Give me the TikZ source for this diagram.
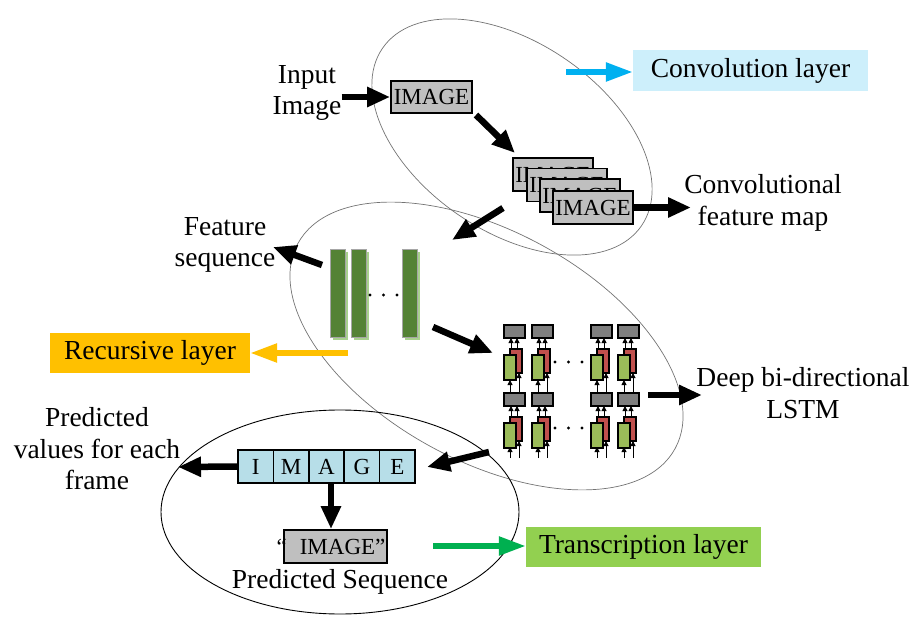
\documentclass[tikz,border=0pt]{standalone}
\usepackage{fontspec}
\setmainfont{Liberation Serif}
\usetikzlibrary{arrows.meta,shadows}

\definecolor{boxgrey}{HTML}{BFBFBF}
\definecolor{cellgrey}{HTML}{7F7F7F}
\definecolor{bargreen}{HTML}{548235}
\definecolor{barlight}{HTML}{A9D18E}
\definecolor{cellred}{HTML}{C0504D}
\definecolor{cellgreen}{HTML}{9BBB59}
\definecolor{seqblue}{HTML}{B7DEE8}
\definecolor{convbg}{HTML}{CDEFFB}
\definecolor{convarrow}{HTML}{00B0F0}
\definecolor{recbg}{HTML}{FFC000}
\definecolor{transbg}{HTML}{92D050}
\definecolor{transarrow}{HTML}{00B050}

\begin{document}
\begin{tikzpicture}[x=1pt,y=-1pt,
  lbl/.style={font=\fontsize{27.5}{31.5}\selectfont, align=center, inner sep=0pt},
  imgbox/.style={draw=black, line width=1.8pt, fill=boxgrey,
    font=\fontsize{23}{26}\selectfont, minimum width=80pt, minimum height=33pt, inner sep=0pt},
  seqcell/.style={draw=black, line width=1.5pt, fill=seqblue,
    font=\fontsize{23}{26}\selectfont, minimum width=35.4pt, minimum height=33pt, inner sep=0pt},
  layerbox/.style={font=\fontsize{27.5}{31.5}\selectfont, inner sep=0pt, minimum height=41pt},
  fbar/.style={draw=black!35, line width=0.5pt, fill=bargreen, minimum width=15pt,
    minimum height=88pt, inner sep=0pt,
    drop shadow={shadow xshift=2.5pt, shadow yshift=-2.5pt, fill=barlight, opacity=1}},
  gcell/.style={draw=black, line width=1.3pt, fill=cellgrey, minimum width=21pt, minimum height=13pt, inner sep=0pt},
  rcell/.style={draw=black, line width=1.3pt, fill=cellred, minimum width=12pt, minimum height=24pt, inner sep=0pt},
  ncell/.style={draw=black, line width=1.3pt, fill=cellgreen, minimum width=12pt, minimum height=25pt, inner sep=0pt},
  bigarrow/.style={line width=6.5pt, -{Triangle[length=23pt,width=19pt]}},
  colarrow/.style={line width=5.5pt, -{Triangle[length=27pt,width=18pt]}},
  tinyarrow/.style={line width=0.9pt, -{Triangle[length=5pt,width=5pt]}},
  ring/.style={draw=black!55, line width=0.7pt},
]
\useasboundingbox (0,0) rectangle (920,620);

% the three stage outlines
\draw[ring, rotate around={-34.4:(512,137)}] (512,137) ellipse [x radius=157pt, y radius=94.5pt];
\draw[ring, rotate around={-28.5:(486.5,346)}] (486.5,346) ellipse [x radius=214.7pt, y radius=115pt];
\draw[black, line width=0.9pt] (340,512) ellipse [x radius=179pt, y radius=102pt];

% ---------- convolution stage ----------
\node[lbl] (inp) at (307,93) {Input\\Image};
\node[imgbox, minimum width=81pt, minimum height=32pt] (img) at (431.5,97) {IMAGE};
\draw[bigarrow] (inp.east |- img.west) -- (img.west);

\node[imgbox] (fm1) at (553,174.5) {IMAGE};
\node[imgbox] (fm2) at (567,185) {IMAGE};
\node[imgbox] (fm3) at (580,195.5) {IMAGE};
\node[imgbox] (fm4) at (593,207.5) {IMAGE};

\coordinate (a1s) at (476,115);
\coordinate (a1e) at (515,153);
\draw[bigarrow] (a1s) -- (a1e);

\node[lbl] (cfm) at (763,203) {Convolutional\\feature map};
\coordinate (a2e) at (691,207.5);
\draw[bigarrow] (fm4.east) -- (a2e);

\node[layerbox, fill=convbg, minimum width=235pt] (conv) at (750.5,71) {Convolution layer};
\coordinate (convs) at (566,72);
\draw[colarrow, convarrow] (convs) -- (conv.west |- convs);

% ---------- recurrent stage ----------
\coordinate (a3s) at (503,208);
\coordinate (a3e) at (452,240);
\draw[bigarrow] (a3s) -- (a3e);

\node[fbar] (f1) at (337.5,293) {};
\node[fbar] (f2) at (358.5,293) {};
\node[fbar] (f3) at (409.5,293) {};
\foreach \x in {370,383.5,397} \fill (\x,295) circle (1.6pt);

\node[lbl] (feat) at (225,245) {Feature\\sequence};
\coordinate (a4s) at (322,265);
\coordinate (a4e) at (273,247);
\draw[bigarrow] (a4s) -- (a4e);

\node[layerbox, fill=recbg, minimum width=200pt, minimum height=40pt] (rec) at (150,353) {Recursive layer};
\coordinate (recs) at (348,353);
\draw[colarrow, recbg] (recs) -- (rec.east |- recs);

\coordinate (a5s) at (433,327);
\coordinate (a5e) at (493,353);
\draw[bigarrow] (a5s) -- (a5e);

% stacked bidirectional LSTM cells
\foreach \c/\X in {1/504,2/532,3/591,4/618}{
  \foreach \l/\d in {1/0,2/68}{
    % inputs from below
    \ifnum\l=1
      \draw[tinyarrow] (\X+6,458) -- (\X+6,447);
      \draw[tinyarrow] (\X+15,458) -- (\X+15,441);
    \fi
    % outputs up into the grey unit
    \draw[tinyarrow] (\X+7,355+\d) -- (\X+7,338+\d);
    \draw[tinyarrow] (\X+13,349+\d) -- (\X+13,338+\d);
    \node[rcell] (r\c\l) at (\X+12,361+\d) {};
    \node[ncell] (n\c\l) at (\X+6,367.5+\d) {};
    \node[gcell] (g\c\l) at (\X+10.5,331.5+\d) {};
  }
  \draw[tinyarrow] (\X+6,393) -- (\X+6,380);
  \draw[tinyarrow] (\X+15,393) -- (\X+15,373);
}
% redraw lower grey units on top of the inter-layer arrows
\foreach \c/\X in {1/504,2/532,3/591,4/618}
  \node[gcell] at (\X+10.5,399.5) {};
\foreach \y in {362,428}
  \foreach \x in {555,568.5,582} \fill (\x,\y) circle (1.6pt);

\node[lbl] (lstm) at (803,393) {Deep bi-directional\\LSTM};
\coordinate (a6s) at (648,395);
\coordinate (a6e) at (702,395);
\draw[bigarrow] (a6s) -- (a6e);

% ---------- transcription stage ----------
\coordinate (a7s) at (489,452);
\coordinate (a7e) at (427,467);
\draw[bigarrow] (a7s) -- (a7e);

\node[seqcell] (s1) at (255.7,466.5) {I};
\node[seqcell] (s2) at (291.1,466.5) {M};
\node[seqcell] (s3) at (326.5,466.5) {A};
\node[seqcell] (s4) at (361.9,466.5) {G};
\node[seqcell] (s5) at (397.3,466.5) {E};

\node[lbl] (pv) at (97,449) {Predicted\\values for each\\frame};
\coordinate (a8e) at (178,467);
\draw[bigarrow] (s1.west) -- (a8e);

\node[imgbox, minimum width=103pt] (pbox) at (335.5,546.5) {};
\node[font=\fontsize{23}{26}\selectfont, inner sep=0pt] (ptext) at (331,547) {“\hspace{13pt}IMAGE”};
\coordinate (a9s) at (331,483);
\draw[bigarrow] (a9s) -- (a9s |- pbox.north);

\node[lbl] (pseq) at (340,582) {Predicted Sequence};

\node[layerbox, fill=transbg, minimum width=235pt, minimum height=40pt] (trans) at (643.5,547) {Transcription layer};
\coordinate (trs) at (433,546);
\draw[colarrow, transarrow] (trs) -- (trans.west |- trs);

\end{tikzpicture}
\end{document}
